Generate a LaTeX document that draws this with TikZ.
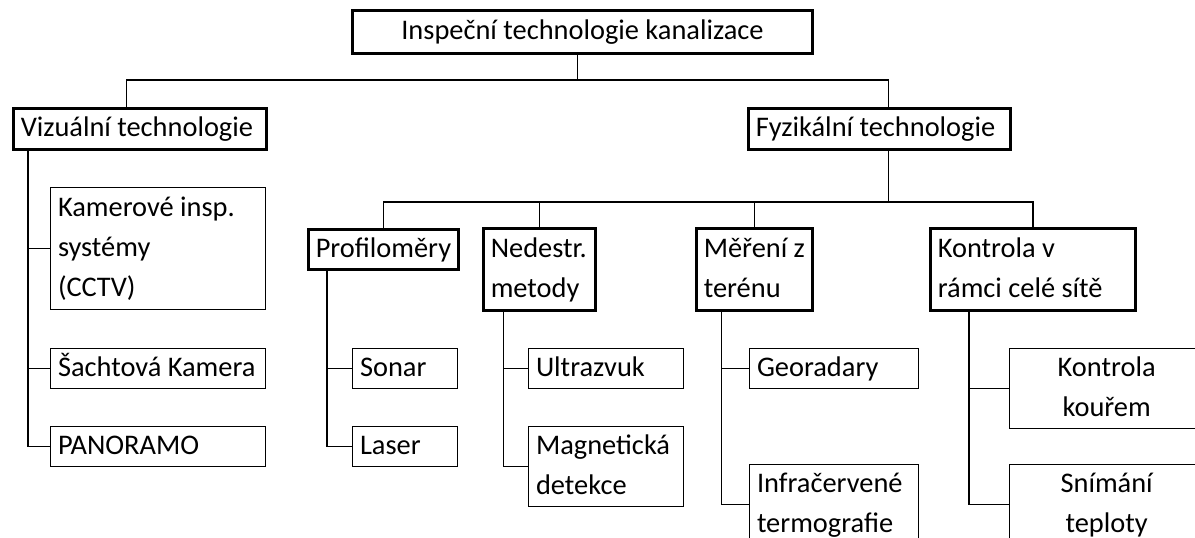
\documentclass[tikz,border=0pt]{standalone}
\usepackage{fontspec}
\setmainfont{Carlito}
\hyphenpenalty=10000
\exhyphenpenalty=10000

\begin{document}
\begin{tikzpicture}[x=0.75pt, y=-0.75pt, font=\fontsize{21.3}{30}\selectfont]

	% Styles
	\tikzstyle{box} = [rectangle, draw, anchor=north west, inner xsep=5.5pt, inner ysep=0pt, align=flush left, execute at begin node=\strut, execute at end node=\strut]
	\tikzstyle{group} = [box, line width=2.2pt]
	\tikzstyle{leaf} = [box, line width=1pt]
	\tikzstyle{link} = [line width=0.9pt]

	\clip (0,0) rectangle (1195,537);

	% Nodes
	\node[group, text width=334pt, align=flush center, minimum height=32.25pt] (inspection) at (351,9) {Inspeční technologie kanalizace};
	\node[group, text width=178.75pt, minimum height=30.75pt] (visual) at (12,107) {Vizuální~technologie};
	\node[group, text width=185.5pt, minimum height=30.75pt] (physical) at (747,107) {Fyzikální~technologie};

	\node[leaf, text width=150.25pt, minimum height=91.5pt] (cctv) at (50,187) {Kamerové~insp.\\systémy\\(CCTV)};
	\node[leaf, text width=150.25pt] (shaft) at (50,348) {Šachtová~Kamera};
	\node[leaf, text width=150.25pt] (panoramo) at (50,426) {PANORAMO};

	\node[group, text width=101.5pt] (profilers) at (307,228) {Profiloměry};
	\node[group, text width=73pt, minimum height=61.5pt] (ndt) at (482,227) {Nedestr.\\metody};
	\node[group, text width=76pt, minimum height=61.5pt] (field) at (695,227) {Měření~z\\terénu};
	\node[group, text width=142.75pt, minimum height=61.5pt] (network) at (929,227) {Kontrola~v\\rámci~celé~sítě};

	\node[leaf, text width=67.75pt] (sonar) at (352,348) {Sonar};
	\node[leaf, text width=67.75pt] (laser) at (352,426) {Laser};
	\node[leaf, text width=105.25pt] (ultrasound) at (528,348) {Ultrazvuk};
	\node[leaf, text width=105.25pt] (magnetic) at (528,426) {Magnetická\\detekce};
	\node[leaf, text width=115.75pt] (gpr) at (749,348) {Georadary};
	\node[leaf, text width=115.75pt] (infrared) at (749,464) {Infračervené\\termografie};
	\node[leaf, text width=134.5pt, align=flush center] (smoke) at (1009,348) {Kontrola\\kouřem};
	\node[leaf, text width=134.5pt, align=flush center] (thermal) at (1009,464) {Snímání\\teploty};

	% Connectors (main tree)
	\draw[link] ([xshift=-4pt]inspection.south) -- ++(0,25) coordinate (topbus);
	\draw[link] (topbus) -| ([xshift=-10pt]visual.north);
	\draw[link] (topbus) -| ([xshift=7pt]physical.north);
	\draw[link] ([xshift=7pt]physical.south) -- ++(0,51) coordinate (physbus);
	\foreach \n in {profilers, ndt, field, network}
		\draw[link] (physbus) -| (\n.north);

	% Connectors (leaves)
	\foreach \n in {cctv, shaft, panoramo}
		\draw[link] ([xshift=12pt]visual.south west) |- (\n.west);
	\foreach \n in {sonar, laser}
		\draw[link] ([xshift=15pt]profilers.south west) |- (\n.west);
	\foreach \n in {ultrasound, magnetic}
		\draw[link] ([xshift=16pt]ndt.south west) |- (\n.west);
	\foreach \n in {gpr, infrared}
		\draw[link] ([xshift=20pt]field.south west) |- (\n.west);
	\foreach \n in {smoke, thermal}
		\draw[link] ([xshift=30pt]network.south west) |- (\n.west);

\end{tikzpicture}
\end{document}
